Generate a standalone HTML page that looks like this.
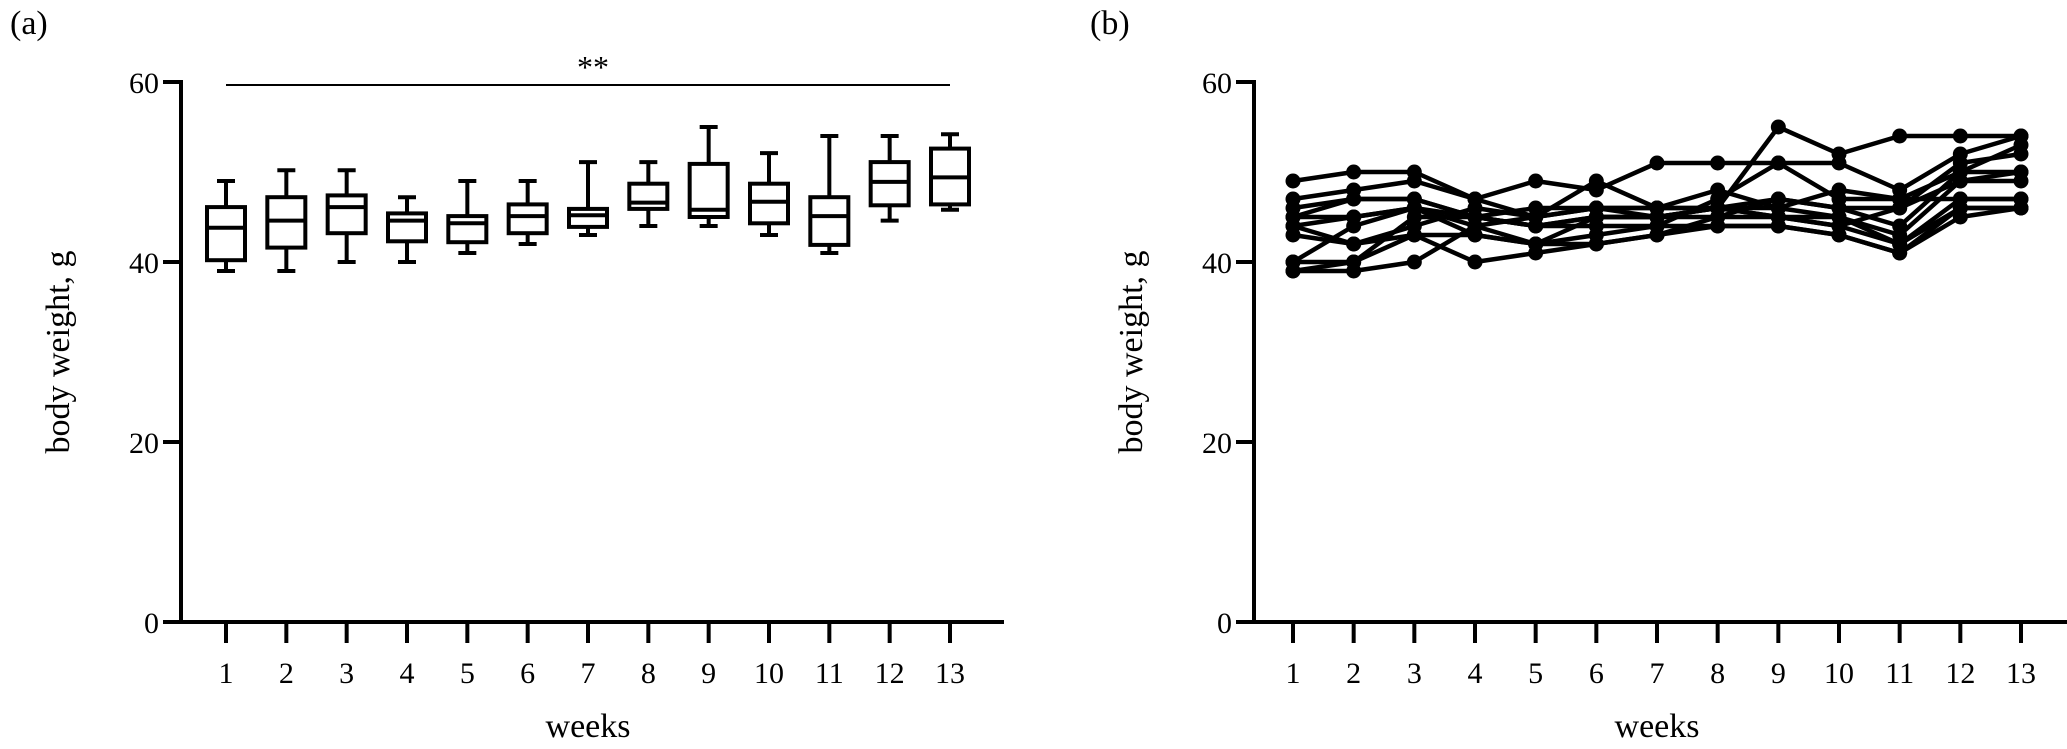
<!DOCTYPE html>
<html><head><meta charset="utf-8"><style>
html,body{margin:0;padding:0;background:#fff;}
svg{display:block;font-family:"Liberation Serif",serif;}
</style></head><body>
<svg id="fig" width="2067" height="749" viewBox="0 0 2067 749" xmlns="http://www.w3.org/2000/svg">
<text x="10" y="34" font-size="34">(a)</text>
<text x="1090" y="34" font-size="34">(b)</text>
<g id="pa"></g>
<g id="pb"></g>
</svg>
<script>
const weeks=[1,2,3,4,5,6,7,8,9,10,11,12,13];
const yTicks=[0,20,40,60];
const wLow=[39,39,40,40,41,42,43,44,44,43,41,44.6,45.8];
const q1=[40.2,41.6,43.2,42.3,42.2,43.2,43.9,45.9,45,44.3,41.9,46.3,46.4];
const med=[43.8,44.6,46.1,44.6,44.3,45.1,45.2,46.6,45.8,46.7,45.1,48.9,49.4];
const q3=[46.1,47.2,47.4,45.4,45.1,46.4,45.9,48.7,50.9,48.7,47.2,51.1,52.6];
const wHigh=[49,50.2,50.2,47.2,49,49,51.1,51.1,55,52.1,54,54,54.2];
const s1=[49,50,50,47,45,49,46,46,55,52,54,54,54];
const s2=[47,48,49,47,49,48,51,51,51,51,48,52,54];
const s3=[46,47,47,45,46,46,46,48,46,48,47,50,53];
const s4=[45,47,47,45,44,45,45,45,47,46,46,49,50];
const s5=[45,45,46,45,44,45,45,46,45,45,43,49,49];
const s6=[44,45,46,44,42,43,44,47,51,47,47,47,47];
const s7=[43,42,43,43,42,42,43,45,45,44,42,46,46];
const s8=[40,44,46,43,42,45,45,46,47,46,44,50,50];
const s9=[40,40,45,45,44,44,44,44,44,43,41,45,46];
const s10=[39,40,43,40,41,42,43,44,44,43,41,46,46];
const s11=[39,39,40,44,45,46,46,46,46,45,42,47,47];
const s12=[44,42,44,46,45,46,45,46,45,44,46,51,52];
const series=[s1,s2,s3,s4,s5,s6,s7,s8,s9,s10,s11,s12];
const NS="http://www.w3.org/2000/svg";
function mk(parent,tag,attrs){const e=document.createElementNS(NS,tag);for(const k in attrs)e.setAttribute(k,attrs[k]);parent.appendChild(e);return e;}
function y(v){return 622-v*9;}
function axes(g,ax,x1,x13,xEnd){
  const x=w=>x1+(w-1)*(x13-x1)/12;
  let e=mk(g,'line',{x1:ax,y1:80,x2:ax,y2:624,stroke:'#000','stroke-width':4});
  
  
  e=mk(g,'line',{x1:ax-2,y1:622,x2:xEnd,y2:622,stroke:'#000','stroke-width':4});
  
  
  yTicks.forEach(t=>{
    mk(g,'line',{x1:ax-18,y1:y(t),x2:ax,y2:y(t),stroke:'#000','stroke-width':4});
    const tx=mk(g,'text',{x:ax-22,y:y(t)+11,'font-size':30,'text-anchor':'end'});tx.textContent=t;
    
    
  });
  weeks.forEach(w=>{
    mk(g,'line',{x1:x(w),y1:622,x2:x(w),y2:643,stroke:'#000','stroke-width':4});
    const tx=mk(g,'text',{x:x(w),y:683,'font-size':30,'text-anchor':'middle'});tx.textContent=w;
    
    
  });
  let t=mk(g,'text',{x:(x1+x13)/2,y:737,'font-size':34,'text-anchor':'middle'});t.textContent='weeks';
  
  
  t=mk(g,'text',{x:0,y:0,'font-size':34,'text-anchor':'middle',transform:`translate(${ax-112},${y(30)}) rotate(-90)`});t.textContent='body weight, g';
  
  
  return x;
}
// panel a
const pa=document.getElementById('pa');
const xa=axes(pa,181,226,950,1004);
let sl=mk(pa,'line',{x1:xa(1),y1:85,x2:xa(13),y2:85,stroke:'#000','stroke-width':2});


let st=mk(pa,'text',{x:593,y:78,'font-size':32,'text-anchor':'middle'});st.textContent='**';


const bw=38;
weeks.forEach((w,i)=>{
  const g=mk(pa,'g',{stroke:'#000','stroke-width':4,fill:'none'});
  
  
  const cx=xa(w);
  mk(g,'line',{x1:cx,y1:y(wHigh[i]),x2:cx,y2:y(q3[i])});
  mk(g,'line',{x1:cx,y1:y(q1[i]),x2:cx,y2:y(wLow[i])});
  mk(g,'line',{x1:cx-9,y1:y(wHigh[i]),x2:cx+9,y2:y(wHigh[i])});
  mk(g,'line',{x1:cx-9,y1:y(wLow[i]),x2:cx+9,y2:y(wLow[i])});
  mk(g,'rect',{x:cx-bw/2,y:y(q3[i]),width:bw,height:y(q1[i])-y(q3[i]),fill:'#fff'});
  mk(g,'line',{x1:cx-bw/2,y1:y(med[i]),x2:cx+bw/2,y2:y(med[i])});
});
// panel b
const pb=document.getElementById('pb');
const xb=axes(pb,1254,1293,2021,2067);
series.forEach((s,k)=>{
  const g=mk(pb,'g',{});
  
  
  mk(g,'polyline',{points:s.map((v,i)=>xb(weeks[i])+','+y(v)).join(' '),fill:'none',stroke:'#000','stroke-width':4.5,'stroke-linejoin':'round'});
  s.forEach((v,i)=>{
    const c=mk(g,'circle',{cx:xb(weeks[i]),cy:y(v),r:7.5,fill:'#000'});
    
    
  });
});
</script>
</body></html>
